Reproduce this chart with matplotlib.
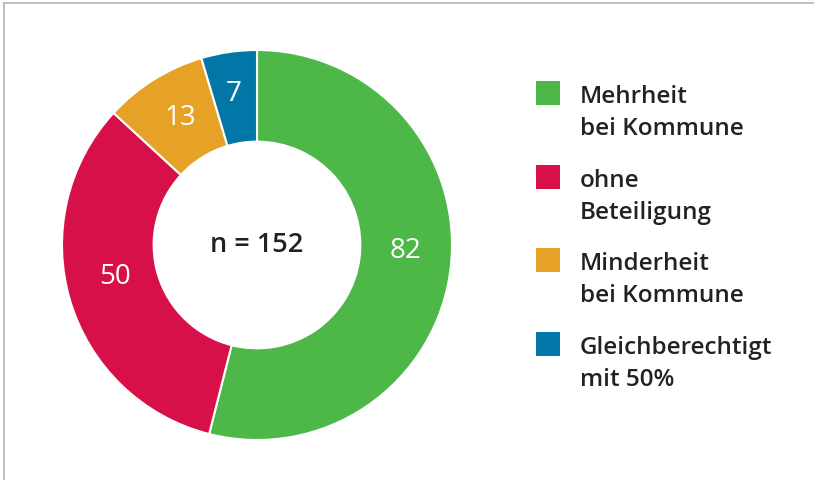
import matplotlib
matplotlib.use("Agg")
import matplotlib.pyplot as plt
import numpy as np
from matplotlib.patches import Rectangle
from matplotlib.lines import Line2D

categories = ["Mehrheit\nbei Kommune", "ohne\nBeteiligung", "Minderheit\nbei Kommune", "Gleichberechtigt\nmit 50%"]
values = [82, 50, 13, 7]
colors = ["#4db848", "#d7104a", "#e5a227", "#0277a7"]
center_label = "n = 152"

plt.rcParams['font.family'] = ['Open Sans', 'DejaVu Sans']

W, H = 814, 480
fig = plt.figure(figsize=(W / 100, H / 100), dpi=100)

cx, cy, R = 257, 245, 195
ax = fig.add_axes([(cx - R) / W, (H - cy - R) / H, 2 * R / W, 2 * R / H])
wedges, _ = ax.pie(values, colors=colors, startangle=90, counterclock=False, radius=1,
                   wedgeprops=dict(width=0.47, edgecolor="white", linewidth=1.5))
ax.set_xlim(-1, 1)
ax.set_ylim(-1, 1)
ax.set_aspect("equal")
ax.axis("off")

# pixel nudges of the value labels (dx, dy up)
nudges = [(1, 12), (0, 10), (2, 1), (-2, 4)]
for w, v, (ndx, ndy) in zip(wedges, values, nudges):
    ang = np.deg2rad((w.theta1 + w.theta2) / 2)
    r = 0.76
    ax.text(r * np.cos(ang) + ndx / R, r * np.sin(ang) + ndy / R, str(v), ha="center", va="center",
            color="white", fontsize=20, fontweight="medium")

ax.text(0, 0, center_label, ha="center", va="center", color="#222222", fontsize=19.5,
        fontweight="semibold")

# legend
sq = 24
x0 = 536
ys = [81, 165, 248, 332]
for cat, col, y in zip(categories, colors, ys):
    fig.patches.append(Rectangle((x0 / W, (H - y - sq) / H), sq / W, sq / H,
                                 transform=fig.transFigure, facecolor=col, edgecolor="none"))
    for i, line in enumerate(cat.split("\n")):
        fig.text(580 / W, (H - (y + 22 + 32 * i)) / H, line, ha="left", va="baseline",
                 color="#222222", fontsize=17.5, fontweight="semibold")

# frame lines (left and top)
fig.add_artist(Line2D([4 / W, 4 / W], [0, (H - 3) / H], transform=fig.transFigure,
                      color="#b4b4b4", linewidth=1.2))
fig.add_artist(Line2D([4 / W, 1], [(H - 3) / H, (H - 3) / H], transform=fig.transFigure,
                      color="#b4b4b4", linewidth=1.2))

fig.savefig("out.png", dpi=100, facecolor="white")
